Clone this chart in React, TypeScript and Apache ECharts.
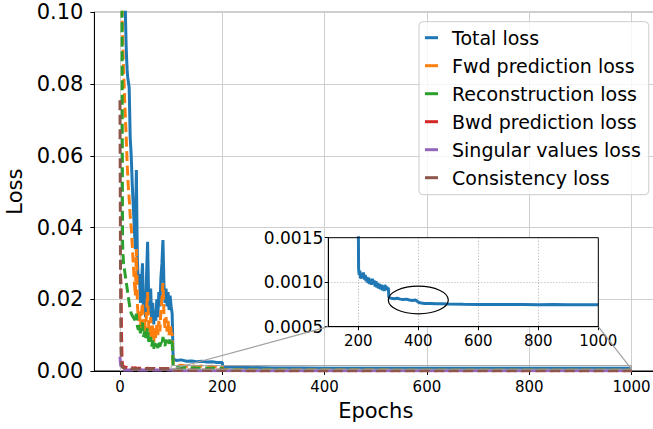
import React, { useEffect, useRef } from "react";
import * as echarts from "echarts";

// ---------------- data ----------------
const epochs = [
  0, 1, 2, 3, 4, 5, 6, 7, 8, 9, 10, 11, 12, 13, 14, 15, 16, 17, 18, 19,
  20, 22, 24, 26, 28, 30, 32, 34, 36, 38, 40, 42, 44, 46, 48, 50, 52, 54, 56, 58,
  60, 62, 64, 66, 68, 70, 72, 74, 76, 78, 80, 82, 84, 86, 88, 90, 92, 94, 96, 98,
  100, 102, 104, 106,
  110, 120, 130, 140, 150, 160, 170, 180, 190, 200,
  201,
  250, 300, 350, 400, 450, 500, 550, 600, 650, 700, 750, 800, 850, 900, 950, 1000,
];

const totalLoss = [
  0.52, 0.41, 0.33, 0.27, 0.22, 0.19, 0.16, 0.14, 0.125, 0.112, 0.104, 0.097, 0.091, 0.087, 0.084, 0.082, 0.081, 0.08, 0.079, 0.072,
  0.065, 0.06, 0.052, 0.046, 0.04, 0.034, 0.056, 0.031, 0.024, 0.027, 0.019, 0.024, 0.03, 0.017, 0.022, 0.015, 0.027, 0.036, 0.021, 0.016,
  0.023, 0.014, 0.019, 0.013, 0.017, 0.014, 0.02, 0.015, 0.022, 0.018, 0.026, 0.03, 0.0365, 0.024, 0.019, 0.023, 0.018, 0.022, 0.017, 0.021,
  0.018, 0.016, 0.0031, 0.0033,
  0.0029, 0.0031, 0.0027, 0.0028, 0.0026, 0.0027, 0.0025, 0.0026, 0.0024, 0.0024,
  0.00112,
  0.00099, 0.00083, 0.00081, 0.00078, 0.00076, 0.000755, 0.00075, 0.00075, 0.00075, 0.00075, 0.000749, 0.00075, 0.000748, 0.000749, 0.000748, 0.000748,
];

const fwdLoss = [
  0.32, 0.22, 0.16, 0.125, 0.102, 0.094, 0.089, 0.084, 0.08, 0.076, 0.0725, 0.069, 0.066, 0.062, 0.058, 0.055, 0.052, 0.05, 0.048, 0.046,
  0.043, 0.04, 0.035, 0.03, 0.025, 0.021, 0.034, 0.019, 0.014, 0.017, 0.012, 0.016, 0.019, 0.011, 0.015, 0.01, 0.017, 0.022, 0.013, 0.01,
  0.015, 0.009, 0.013, 0.008, 0.012, 0.009, 0.013, 0.01, 0.014, 0.011, 0.017, 0.02, 0.0245, 0.016, 0.012, 0.015, 0.011, 0.014, 0.01, 0.013,
  0.011, 0.01, 0.0019, 0.0017,
  0.0015, 0.0016, 0.0013, 0.0015, 0.0012, 0.0014, 0.0012, 0.0013, 0.0011, 0.0011,
  0.0004,
  0.00032, 0.00028, 0.00027, 0.00026, 0.00025, 0.00025, 0.00024, 0.00024, 0.00024, 0.00024, 0.00023, 0.00024, 0.00023, 0.00023, 0.00023, 0.00023,
];

const reconLoss = [
  0.55, 0.35, 0.22, 0.15, 0.1, 0.036, 0.032, 0.03, 0.029, 0.028, 0.027, 0.026, 0.025, 0.024, 0.023, 0.022, 0.021, 0.02, 0.019, 0.018,
  0.0175, 0.016, 0.0155, 0.015, 0.0145, 0.014, 0.016, 0.0125, 0.0115, 0.013, 0.0105, 0.012, 0.0135, 0.0095, 0.011, 0.009, 0.0105, 0.012, 0.0085, 0.0075,
  0.0095, 0.0068, 0.0085, 0.0062, 0.0078, 0.0062, 0.0076, 0.0064, 0.0082, 0.0068, 0.008, 0.0072, 0.0095, 0.0078, 0.007, 0.0088, 0.0073, 0.0085, 0.0076, 0.0092,
  0.0082, 0.0078, 0.0012, 0.0011,
  0.001, 0.00095, 0.0009, 0.0009, 0.00085, 0.00085, 0.0008, 0.0008, 0.00078, 0.00075,
  0.0003,
  0.00028, 0.00025, 0.00024, 0.00023, 0.00022, 0.00022, 0.00022, 0.00021, 0.00021, 0.00021, 0.00021, 0.00021, 0.0002, 0.0002, 0.0002, 0.0002,
];

const bwdLoss = [
  0.027, 0.0268, 0.024, 0.011, 0.003, 0.0016, 0.0013, 0.0012, 0.0012, 0.0011, 0.0011, 0.0011, 0.001, 0.001, 0.001, 0.001, 0.0009, 0.0009, 0.0009, 0.0009,
  0.0009, 0.0008, 0.0009, 0.0008, 0.0008, 0.0009, 0.0008, 0.0008, 0.0007, 0.0008, 0.0007, 0.0008, 0.0007, 0.0007, 0.0008, 0.0007, 0.0007, 0.0008, 0.0007, 0.0006,
  0.0007, 0.0006, 0.0007, 0.0006, 0.0007, 0.0006, 0.0007, 0.0006, 0.0006, 0.0007, 0.0006, 0.0007, 0.0006, 0.0006, 0.0007, 0.0006, 0.0006, 0.0007, 0.0006, 0.0006,
  0.0006, 0.0006, 0.0002, 0.0002,
  0.0002, 0.0002, 0.0002, 0.0002, 0.0002, 0.0002, 0.0002, 0.0002, 0.0002, 0.0002,
  0.00012,
  0.0001, 0.0001, 0.0001, 0.0001, 0.0001, 0.0001, 0.0001, 0.0001, 0.0001, 0.0001, 0.0001, 0.0001, 0.0001, 0.0001, 0.0001, 0.0001,
];

const singularLoss = [
  0.004, 0.002, 0.001, 0.0006, 0.0004, 0.0003, 0.0003, 0.0003, 0.0003, 0.0003, 0.0003, 0.0003, 0.0003, 0.0003, 0.0003, 0.0003, 0.0003, 0.0003, 0.0003, 0.0003,
  0.0003, 0.0003, 0.0003, 0.0003, 0.0003, 0.0003, 0.0003, 0.0003, 0.0003, 0.0003, 0.0003, 0.0003, 0.0003, 0.0003, 0.0003, 0.0003, 0.0003, 0.0003, 0.0003, 0.0003,
  0.0003, 0.0003, 0.0003, 0.0003, 0.0003, 0.0003, 0.0003, 0.0003, 0.0003, 0.0003, 0.0003, 0.0003, 0.0003, 0.0003, 0.0003, 0.0003, 0.0003, 0.0003, 0.0003, 0.0003,
  0.0003, 0.0003, 0.0001, 0.0001,
  0.0001, 0.0001, 0.0001, 0.0001, 0.0001, 0.0001, 0.0001, 0.0001, 0.0001, 0.0001,
  0.0001,
  0.0001, 0.0001, 0.0001, 0.0001, 0.0001, 0.0001, 0.0001, 0.0001, 0.0001, 0.0001, 0.0001, 0.0001, 0.0001, 0.0001, 0.0001, 0.0001,
];

const consistencyLoss = [
  0.0755, 0.03, 0.006, 0.002, 0.0012, 0.001, 0.0009, 0.0009, 0.0008, 0.0008, 0.0008, 0.0008, 0.0007, 0.0007, 0.0007, 0.0007, 0.0007, 0.0007, 0.0007, 0.0007,
  0.0007, 0.0006, 0.0006, 0.0006, 0.0006, 0.0006, 0.0006, 0.0006, 0.0006, 0.0006, 0.0006, 0.0006, 0.0006, 0.0006, 0.0006, 0.0006, 0.0006, 0.0006, 0.0006, 0.0006,
  0.0006, 0.0006, 0.0006, 0.0006, 0.0006, 0.0006, 0.0006, 0.0006, 0.0006, 0.0006, 0.0006, 0.0006, 0.0006, 0.0006, 0.0006, 0.0006, 0.0006, 0.0006, 0.0006, 0.0006,
  0.0006, 0.0006, 0.0002, 0.0002,
  0.0002, 0.0002, 0.0002, 0.0002, 0.0002, 0.0002, 0.0002, 0.0002, 0.0002, 0.0002,
  0.0001,
  0.0001, 0.0001, 0.0001, 0.0001, 0.0001, 0.0001, 0.0001, 0.0001, 0.0001, 0.0001, 0.0001, 0.0001, 0.0001, 0.0001, 0.0001, 0.0001,
];

const insetEpochs = [
  200, 201, 203, 205, 208, 211, 214, 217, 220, 223, 226, 229, 232, 235, 238, 241, 244, 247, 250, 253,
  256, 259, 262, 265, 268, 271, 274, 277, 280, 283, 286, 289, 292, 295, 298, 300, 302,
  310, 320, 330, 340, 350, 360, 370, 380, 390, 395, 400, 410, 420, 440, 460, 480, 500,
  550, 600, 650, 700, 750, 800, 850, 900, 950, 1000,
];

const insetTotalLoss = [
  0.0017, 0.00115, 0.00108, 0.00113, 0.00104, 0.0011, 0.00105, 0.00111, 0.00103, 0.00108, 0.00101, 0.00106, 0.00099, 0.00105, 0.00098, 0.00103, 0.00097, 0.00104, 0.00098, 0.00102,
  0.00095, 0.00101, 0.00094, 0.00099, 0.00093, 0.00098, 0.00092, 0.00097, 0.00091, 0.00096, 0.0009, 0.00097, 0.00091, 0.00095, 0.00092, 0.00094, 0.00083,
  0.00082, 0.000815, 0.00082, 0.00081, 0.000805, 0.00081, 0.0008, 0.000795, 0.0008, 0.00079, 0.000775, 0.000765, 0.000762, 0.00076, 0.000758, 0.000757, 0.000755,
  0.000752, 0.00075, 0.00075, 0.000749, 0.00075, 0.000748, 0.000749, 0.000748, 0.000747, 0.000748,
];

const seriesNames = [
  "Total loss",
  "Fwd prediction loss",
  "Reconstruction loss",
  "Bwd prediction loss",
  "Singular values loss",
  "Consistency loss",
];
const seriesColors = ["#1f77b4", "#ff7f0e", "#2ca02c", "#d62728", "#9467bd", "#8c564b"];
const seriesValues = [totalLoss, fwdLoss, reconLoss, bwdLoss, singularLoss, consistencyLoss];

const xTicks = [0, 200, 400, 600, 800, 1000];
const insetXTicks = [200, 400, 600, 800, 1000];
const insetXRange = [100, 1000];
const insetYRange = [0.0005, 0.0015];
// ellipse: center epoch, center loss, half-width (epochs), half-height (loss)
const ellipseSpec = [400, 0.0008, 100, 0.000155];

const FONT = "DejaVu Sans";

export default function App() {
  const ref = useRef<HTMLDivElement>(null);

  useEffect(() => {
    if (!ref.current) return;
    const chart = echarts.init(ref.current, null, { renderer: "svg" });

    const mainSeries = seriesValues.map((vals, i) => ({
      name: seriesNames[i],
      type: "line",
      xAxisIndex: 0,
      yAxisIndex: 0,
      data: epochs.map((e, j) => [e, vals[j]]),
      symbol: "none",
      showSymbol: false,
      color: seriesColors[i],
      lineStyle: {
        width: 3,
        color: seriesColors[i],
        type: i === 0 ? "solid" : [10, 4.5],
      },
      z: 2,
      clip: true,
      silent: true,
    }));

    const option: any = {
      animation: false,
      textStyle: { fontFamily: FONT },
      grid: [
        {
          left: 94.4,
          top: 12.3,
          width: 562.7,
          height: 358.7,
          show: true,
          backgroundColor: "transparent",
          borderColor: "#000",
          borderWidth: 1,
          containLabel: false,
          outerBoundsMode: "none",
        },
        {
          left: 328.3,
          top: 237.7,
          width: 270,
          height: 89,
          containLabel: false,
          outerBoundsMode: "none",
        },
      ],
      xAxis: [
        {
          type: "value",
          gridIndex: 0,
          min: -50,
          max: 1050,
          axisLine: { show: true, onZero: false, lineStyle: { color: "#000", width: 1 } },
          axisTick: { show: true, inside: false, length: 4, customValues: xTicks, lineStyle: { color: "#000" } },
          axisLabel: {
            customValues: xTicks,
            fontSize: 15,
            fontFamily: FONT,
            color: "#000",
            margin: 8,
            formatter: (v: number) => (xTicks.indexOf(v) >= 0 ? String(v) : ""),
          },
          splitLine: { show: true, lineStyle: { color: "#cfcfcf", width: 1 } },
          name: "Epochs",
          nameLocation: "middle",
          nameGap: 29,
          nameTextStyle: { fontSize: 21, fontFamily: FONT, color: "#000" },
        },
        {
          type: "value",
          gridIndex: 1,
          min: insetXRange[0],
          max: insetXRange[1],
          z: 3,
          axisLine: { show: true, onZero: false, lineStyle: { color: "#000", width: 1 } },
          axisTick: { show: true, inside: false, length: 3.5, customValues: insetXTicks, lineStyle: { color: "#000" } },
          axisLabel: {
            customValues: insetXTicks,
            fontSize: 15,
            fontFamily: FONT,
            color: "#000",
            margin: 7,
            formatter: (v: number) => (insetXTicks.indexOf(v) >= 0 ? String(v) : ""),
          },
          splitLine: { show: true, lineStyle: { color: "#aaaaaa", width: 0.8, type: [1.2, 1.8] } },
        },
      ],
      yAxis: [
        {
          type: "value",
          gridIndex: 0,
          min: 0,
          max: 0.1,
          interval: 0.02,
          axisLine: { show: true, onZero: false, lineStyle: { color: "#000", width: 1 } },
          axisTick: { show: true, inside: false, length: 4, lineStyle: { color: "#000" } },
          axisLabel: {
            fontSize: 21,
            fontFamily: FONT,
            color: "#000",
            margin: 11,
            formatter: (v: number) => v.toFixed(2),
          },
          splitLine: { show: true, lineStyle: { color: "#cfcfcf", width: 1 } },
          name: "Loss",
          nameLocation: "middle",
          nameGap: 67,
          nameTextStyle: { fontSize: 21, fontFamily: FONT, color: "#000" },
        },
        {
          type: "value",
          gridIndex: 1,
          min: insetYRange[0],
          max: insetYRange[1],
          interval: 0.0005,
          z: 3,
          axisLine: { show: true, onZero: false, lineStyle: { color: "#000", width: 1 } },
          axisTick: { show: true, inside: false, length: 3.5, lineStyle: { color: "#000" } },
          axisLabel: {
            fontSize: 17,
            fontFamily: FONT,
            color: "#000",
            margin: 5,
            formatter: (v: number) => v.toFixed(4),
          },
          splitLine: { show: true, lineStyle: { color: "#aaaaaa", width: 0.8, type: [1.2, 1.8] } },
        },
      ],
      legend: {
        orient: "vertical",
        left: 419,
        top: 21.7,
        padding: [6, 8, 7, 6],
        itemWidth: 13,
        itemHeight: 3,
        itemGap: 8,
        icon: "rect",
        selectedMode: false,
        backgroundColor: "rgba(255,255,255,0.8)",
        borderColor: "#cccccc",
        borderWidth: 1,
        borderRadius: 4,
        itemStyle: { borderWidth: 0 },
        textStyle: { fontFamily: FONT, fontSize: 19, color: "#000", lineHeight: 20, padding: [0, 0, 0, 9] },
        data: seriesNames,
        z: 10,
      },
      series: [
        ...mainSeries,
        {
          name: "inset",
          type: "line",
          xAxisIndex: 1,
          yAxisIndex: 1,
          data: insetEpochs.map((e, j) => [e, insetTotalLoss[j]]),
          symbol: "none",
          showSymbol: false,
          lineStyle: { width: 3, color: seriesColors[0] },
          color: seriesColors[0],
          z: 4,
          clip: true,
          silent: true,
        },
        {
          name: "ellipse",
          type: "custom",
          xAxisIndex: 1,
          yAxisIndex: 1,
          data: [ellipseSpec],
          z: 5,
          clip: false,
          silent: true,
          renderItem: (_params: any, api: any) => {
            const cx = api.value(0);
            const cy = api.value(1);
            const c = api.coord([cx, cy]);
            const ex = api.coord([cx + api.value(2), cy]);
            const ey = api.coord([cx, cy + api.value(3)]);
            return {
              type: "ellipse",
              shape: { cx: c[0], cy: c[1], rx: Math.abs(ex[0] - c[0]), ry: Math.abs(c[1] - ey[1]) },
              style: { fill: "none", stroke: "#000", lineWidth: 1.2 },
            };
          },
        },
      ],
    };

    chart.setOption(option);

    const px = (g: number, v: number[]) => chart.convertToPixel({ gridIndex: g } as any, v) as unknown as number[];
    const iLL = px(1, [insetXRange[0], insetYRange[0]]);
    const iUR = px(1, [insetXRange[1], insetYRange[1]]);
    const iLR = px(1, [insetXRange[1], insetYRange[0]]);
    const mLL = px(0, [insetXRange[0], insetYRange[0]]);
    const mUR = px(0, [insetXRange[1], insetYRange[1]]);
    const mLR = px(0, [insetXRange[1], insetYRange[0]]);
    const insetBox = { x: iLL[0], y: iUR[1], width: iUR[0] - iLL[0], height: iLL[1] - iUR[1] };

    chart.setOption({
      graphic: {
        elements: [
          {
            type: "rect",
            z: 1,
            silent: true,
            shape: insetBox,
            style: { fill: "#ffffff", stroke: "none" },
          },
          {
            type: "rect",
            z: 7,
            silent: true,
            shape: insetBox,
            style: { fill: "none", stroke: "#000", lineWidth: 1 },
          },
          {
            type: "rect",
            z: 6,
            silent: true,
            shape: { x: mLL[0], y: mUR[1], width: mUR[0] - mLL[0], height: mLL[1] - mUR[1] },
            style: { fill: "none", stroke: "#a0a0a0", lineWidth: 1 },
          },
          {
            type: "line",
            z: 6,
            silent: true,
            shape: { x1: iLL[0], y1: iLL[1], x2: mLL[0], y2: mLL[1] },
            style: { stroke: "#a0a0a0", lineWidth: 1.2 },
          },
          {
            type: "line",
            z: 6,
            silent: true,
            shape: { x1: iLR[0], y1: iLR[1], x2: mLR[0], y2: mLR[1] },
            style: { stroke: "#a0a0a0", lineWidth: 1.2 },
          },
        ],
      },
    });

    return () => {
      chart.dispose();
    };
  }, []);

  return (
    <div
      ref={ref}
      style={{ position: "fixed", left: 0, top: 0, width: 653, height: 429, background: "#fff" }}
    />
  );
}
